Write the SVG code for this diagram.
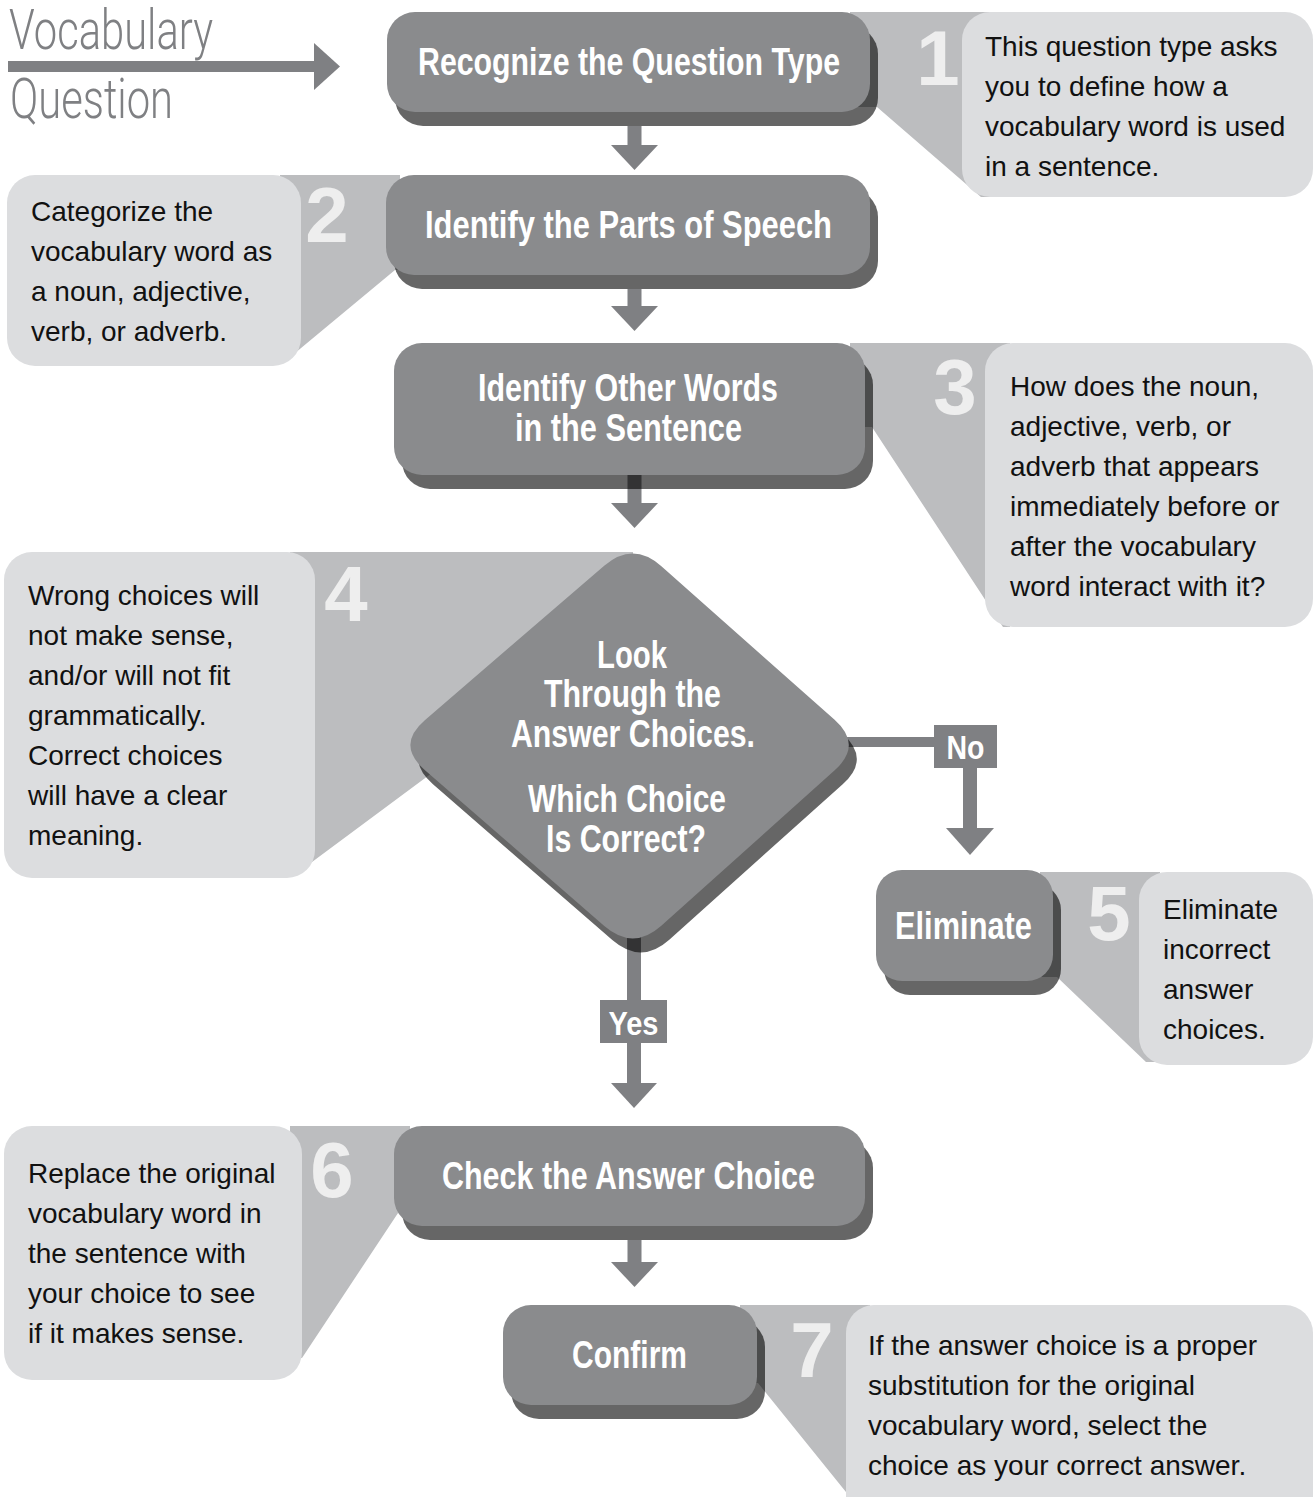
<svg xmlns="http://www.w3.org/2000/svg" width="1313" height="1497" viewBox="0 0 1313 1497">
<style>
.bx{fill:#8a8b8d}
.sh{fill:#000000;fill-opacity:0.6}
.wg{fill:#bcbdbf}
.lt{fill:#dcdddf}
.num{font-family:"Liberation Sans",Arial,sans-serif;font-weight:bold;font-size:78px;fill:#eeeeee;text-anchor:middle}
.ct{font-family:"Liberation Sans",Arial,sans-serif;font-size:28px;fill:#111}
.bt{font-family:"Liberation Sans",Arial,sans-serif;font-weight:bold;font-size:38px;fill:#ffffff;text-anchor:middle}
.lb{font-family:"Liberation Sans",Arial,sans-serif;font-weight:bold;font-size:34px;fill:#ffffff;text-anchor:middle}
.ar{fill:#7f8083}
.hd{font-family:Roboto,"Liberation Sans",sans-serif;font-weight:300;font-size:56px;fill:#7f8083}
</style>
<defs>
<path id="dia" d="M604.2,565.8 Q633,541 661.4,566.2 L834.6,719.8 Q863,745 834.7,770.3 L661.3,925.7 Q633,951 604.3,926.1 L424.7,769.9 Q396,745 424.8,720.2 Z"/>
</defs>

<g id="title">
<text class="hd" x="9" y="49" textLength="204" lengthAdjust="spacingAndGlyphs">Vocabulary</text>
<text class="hd" x="10" y="118" textLength="163" lengthAdjust="spacingAndGlyphs">Question</text>
</g>

<g id="callout1">
<polygon class="wg" points="850,12 1000,12 1000,197 981,197 877,107 850,107"/>
<rect class="lt" x="962" y="12" width="351" height="185" rx="28"/>
<text class="num" x="938" y="85">1</text>
<text class="ct" x="985" y="56">This question type asks</text>
<text class="ct" x="985" y="96">you to define how a</text>
<text class="ct" x="985" y="136">vocabulary word is used</text>
<text class="ct" x="985" y="176">in a sentence.</text>
</g>

<g id="callout2">
<polygon class="wg" points="280,175 400,175 400,270 395,270 283,363 280,363"/>
<rect class="lt" x="7" y="175" width="294" height="191" rx="28"/>
<text class="num" x="327" y="242">2</text>
<text class="ct" x="31" y="221">Categorize the</text>
<text class="ct" x="31" y="261">vocabulary word as</text>
<text class="ct" x="31" y="301">a noun, adjective,</text>
<text class="ct" x="31" y="341">verb, or adverb.</text>
</g>

<g id="callout3">
<polygon class="wg" points="850,343 1010,343 1010,627 1003,627 872,427 850,427"/>
<rect class="lt" x="985" y="343" width="328" height="284" rx="28"/>
<text class="num" x="955" y="414">3</text>
<text class="ct" x="1010" y="396">How does the noun,</text>
<text class="ct" x="1010" y="436">adjective, verb, or</text>
<text class="ct" x="1010" y="476">adverb that appears</text>
<text class="ct" x="1010" y="516">immediately before or</text>
<text class="ct" x="1010" y="556">after the vocabulary</text>
<text class="ct" x="1010" y="596">word interact with it?</text>
</g>

<g id="callout4">
<polygon class="wg" points="290,552 633,552 633,745 440,767 312,862 290,862"/>
<rect class="lt" x="4" y="552" width="311" height="326" rx="28"/>
<text class="num" x="346" y="621">4</text>
<text class="ct" x="28" y="605">Wrong choices will</text>
<text class="ct" x="28" y="645">not make sense,</text>
<text class="ct" x="28" y="685">and/or will not fit</text>
<text class="ct" x="28" y="725">grammatically.</text>
<text class="ct" x="28" y="765">Correct choices</text>
<text class="ct" x="28" y="805">will have a clear</text>
<text class="ct" x="28" y="845">meaning.</text>
</g>

<g id="callout5">
<polygon class="wg" points="1040,872 1160,872 1160,1062 1146,1062 1057,977 1040,977"/>
<rect class="lt" x="1139" y="872" width="174" height="193" rx="28"/>
<text class="num" x="1109" y="940">5</text>
<text class="ct" x="1163" y="919">Eliminate</text>
<text class="ct" x="1163" y="959">incorrect</text>
<text class="ct" x="1163" y="999">answer</text>
<text class="ct" x="1163" y="1039">choices.</text>
</g>

<g id="callout6">
<polygon class="wg" points="290,1126 410,1126 410,1210 400,1210 302,1358 290,1358"/>
<rect class="lt" x="4" y="1126" width="298" height="254" rx="28"/>
<text class="num" x="332" y="1197">6</text>
<text class="ct" x="28" y="1183">Replace the original</text>
<text class="ct" x="28" y="1223">vocabulary word in</text>
<text class="ct" x="28" y="1263">the sentence with</text>
<text class="ct" x="28" y="1303">your choice to see</text>
<text class="ct" x="28" y="1343">if it makes sense.</text>
</g>

<g id="callout7">
<polygon class="wg" points="740,1305 870,1305 870,1497 850,1497 758,1383 740,1383"/>
<rect class="lt" x="846" y="1305" width="467" height="230" rx="28"/>
<text class="num" x="812" y="1377">7</text>
<text class="ct" x="868" y="1355">If the answer choice is a proper</text>
<text class="ct" x="868" y="1395">substitution for the original</text>
<text class="ct" x="868" y="1435">vocabulary word, select the</text>
<text class="ct" x="868" y="1475">choice as your correct answer.</text>
</g>

<g id="connectors">
<rect class="ar" x="8" y="61" width="308" height="11"/>
<polygon class="ar" points="314,43 340,66.5 314,90"/>

<rect class="ar" x="627.5" y="126" width="14" height="21"/>
<polygon class="ar" points="611,145 658,145 634.5,170"/>

<rect class="ar" x="627.5" y="289" width="14" height="19"/>
<polygon class="ar" points="611,306 658,306 634.5,331"/>

<rect class="ar" x="627.5" y="465" width="14" height="40"/>
<polygon class="ar" points="611,503 658,503 634.5,528"/>

<rect class="ar" x="840" y="737" width="96" height="10"/>
<rect class="ar" x="934" y="725" width="63" height="43"/>
<text class="lb" x="965.5" y="759" textLength="38" lengthAdjust="spacingAndGlyphs">No</text>
<rect class="ar" x="963" y="768" width="14" height="62"/>
<polygon class="ar" points="946,828 994,828 970,855"/>

<rect class="ar" x="627" y="925" width="14" height="75"/>
<rect class="ar" x="600" y="1000" width="67" height="43"/>
<text class="lb" x="633.5" y="1035" textLength="50" lengthAdjust="spacingAndGlyphs">Yes</text>
<rect class="ar" x="627" y="1043" width="14" height="42"/>
<polygon class="ar" points="611,1083 657,1083 634,1108"/>

<rect class="ar" x="627.5" y="1240" width="14" height="23"/>
<polygon class="ar" points="611,1262 658,1262 634.5,1287"/>
</g>

<g id="step1">
<rect class="sh" x="395" y="26" width="483" height="100" rx="28"/>
<rect class="bx" x="387" y="12" width="483" height="100" rx="28"/>
<text class="bt" x="629" y="75" textLength="422" lengthAdjust="spacingAndGlyphs">Recognize the Question Type</text>
</g>

<g id="step2">
<rect class="sh" x="394" y="189" width="484" height="100" rx="28"/>
<rect class="bx" x="386" y="175" width="484" height="100" rx="28"/>
<text class="bt" x="628.5" y="238" textLength="407" lengthAdjust="spacingAndGlyphs">Identify the Parts of Speech</text>
</g>

<g id="step3">
<rect class="sh" x="402" y="357" width="471" height="132" rx="28"/>
<rect class="bx" x="394" y="343" width="471" height="132" rx="28"/>
<text class="bt" x="628" y="401" textLength="300" lengthAdjust="spacingAndGlyphs">Identify Other Words</text>
<text class="bt" x="628.5" y="441" textLength="227" lengthAdjust="spacingAndGlyphs">in the Sentence</text>
</g>

<g id="step4">
<use href="#dia" class="sh" transform="translate(8,14)"/>
<use href="#dia" class="bx"/>
<text class="bt" x="632" y="668" textLength="70" lengthAdjust="spacingAndGlyphs">Look</text>
<text class="bt" x="632.5" y="707" textLength="177" lengthAdjust="spacingAndGlyphs">Through the</text>
<text class="bt" x="633" y="747" textLength="244" lengthAdjust="spacingAndGlyphs">Answer Choices.</text>
<text class="bt" x="627" y="812" textLength="198" lengthAdjust="spacingAndGlyphs">Which Choice</text>
<text class="bt" x="626" y="852" textLength="160" lengthAdjust="spacingAndGlyphs">Is Correct?</text>
</g>

<g id="step5">
<rect class="sh" x="884" y="884" width="177" height="111" rx="26"/>
<rect class="bx" x="876" y="870" width="177" height="111" rx="26"/>
<text class="bt" x="963.5" y="939" textLength="137" lengthAdjust="spacingAndGlyphs">Eliminate</text>
</g>

<g id="step6">
<rect class="sh" x="402" y="1140" width="471" height="100" rx="28"/>
<rect class="bx" x="394" y="1126" width="471" height="100" rx="28"/>
<text class="bt" x="628.5" y="1189" textLength="373" lengthAdjust="spacingAndGlyphs">Check the Answer Choice</text>
</g>

<g id="step7">
<rect class="sh" x="511" y="1319" width="254" height="100" rx="28"/>
<rect class="bx" x="503" y="1305" width="254" height="100" rx="28"/>
<text class="bt" x="629.5" y="1368" textLength="115" lengthAdjust="spacingAndGlyphs">Confirm</text>
</g>
</svg>
